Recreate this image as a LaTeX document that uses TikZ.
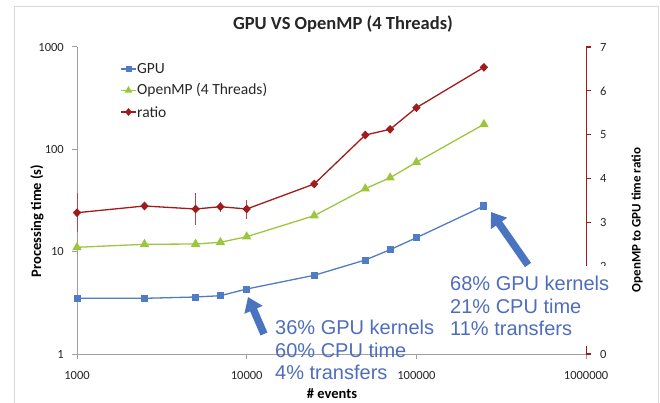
\documentclass[tikz,border=0pt]{standalone}
\usepackage{fontspec}
\setmainfont{Carlito}
\newfontfamily\annfont{Liberation Sans}
\usetikzlibrary{arrows.meta,shapes.geometric}
\definecolor{gpublue}{HTML}{4F7CC4}
\definecolor{ompgreen}{HTML}{9CC63E}
\definecolor{ratiored}{HTML}{A01C1C}
\definecolor{anncol}{HTML}{4E6DBE}
\definecolor{arrowcol}{HTML}{4A74C0}
\definecolor{axisgray}{HTML}{A0A0A0}
\definecolor{framegray}{HTML}{D9D9D9}
\tikzset{
  gpuline/.style={draw=gpublue, line width=1.3pt},
  ompline/.style={draw=ompgreen, line width=1.3pt},
  ratioline/.style={draw=ratiored, line width=1.3pt},
  gpumark/.style={rectangle, fill=gpublue, minimum size=7pt, inner sep=0pt},
  ompmark/.style={regular polygon, regular polygon sides=3, fill=ompgreen, minimum size=11pt, inner sep=0pt},
  ratiomark/.style={diamond, fill=ratiored, minimum width=8.5pt, minimum height=9pt, inner sep=0pt},
  errbar/.style={draw=ratiored!80, line width=0.8pt},
  ticklab/.style={font=\fontsize{12.5}{14}\selectfont, inner sep=0pt, text=black!85},
  axtitle/.style={font=\fontsize{14.5}{16}\selectfont\bfseries, inner sep=0pt},
  legtext/.style={font=\fontsize{15.5}{17}\selectfont, inner sep=0pt, anchor=west, text=black!85},
  anntext/.style={font=\annfont\fontsize{20}{22.5}\selectfont, text=anncol, align=left},
  bigarrow/.style={draw=arrowcol, line width=7.5pt, -{Triangle[width=19pt,length=14pt]}},
}
\begin{document}
\begin{tikzpicture}[x=1pt,y=-1pt]
\useasboundingbox (0,0) rectangle (660,403);
% frame
\draw[framegray, line width=0.8pt] (14,410) -- (14,6) -- (658,6) -- (658,410);
% title
\node[font=\fontsize{18.5}{20}\selectfont\bfseries, inner sep=0pt, text=black!85] (title) at (343,24) {GPU VS OpenMP (4 Threads)};
% left axis
\draw[axisgray, line width=1pt] (77,47) -- (77,354);
\foreach \v/\y in {1000/47, 100/149.3, 10/251.7, 1/354} {
  \draw[axisgray, line width=1pt] (72,\y) -- (77,\y);
  \node[ticklab, anchor=east] (yl\v) at (64,\y) {\v};
}
% bottom axis
\draw[axisgray, line width=1pt] (77,354) -- (586.1,354);
\foreach \v/\x in {1000/77, 10000/246.7, 100000/416.4, 1000000/586.1} {
  \draw[axisgray, line width=1pt] (\x,354) -- (\x,359);
  \node[ticklab] (xl\v) at (\x,375) {\v};
}
% right axis
\draw[ratiored, line width=1.2pt] (586.1,47) -- (586.1,354);
\foreach \k in {0,...,7} {
  \draw[ratiored, line width=1.2pt] (586.1,354-43.857*\k) -- (591,354-43.857*\k);
  \node[ticklab, anchor=west] (rl\k) at (600,354-43.857*\k) {\k};
}
% axis titles
\node[axtitle, rotate=90] (ytitle) at (37,221) {Processing time (s)};
\node[axtitle, rotate=90, font=\fontsize{13}{15}\selectfont\bfseries] (rtitle) at (637,220) {OpenMP to GPU time ratio};
\node[axtitle] (xtitle) at (332,393.5) {\# events};
% data coordinates
\foreach \i/\x/\g/\o/\r in {
  1/77/298.3/247.3/212.7,
  2/144.5/298.3/244.3/206,
  3/195.6/297/244/209,
  4/220.4/295.7/242.3/206.7,
  5/246.7/289/236.7/209,
  6/314.2/275.3/215.7/184,
  7/365.3/260/188.7/135,
  8/390.1/249.7/177.7/129.3,
  9/416.4/237.7/162.3/107.7,
  10/483.9/206/124.3/67.3} {
  \coordinate (g\i) at (\x,\g);
  \coordinate (o\i) at (\x,\o);
  \coordinate (r\i) at (\x,\r);
}
% error bars
\draw[errbar] (77,193) -- (77,232);
\draw[errbar] (195.6,192.7) -- (195.6,225);
\draw[errbar] (220.4,201.7) -- (220.4,212);
\draw[errbar] (246.7,200) -- (246.7,219.3);
% lines
\draw[gpuline] (g1) -- (g2) -- (g3) -- (g4) -- (g5) -- (g6) -- (g7) -- (g8) -- (g9) -- (g10);
\draw[ompline] (o1) -- (o2) -- (o3) -- (o4) -- (o5) -- (o6) -- (o7) -- (o8) -- (o9) -- (o10);
\draw[ratioline] (r1) -- (r2) -- (r3) -- (r4) -- (r5) -- (r6) -- (r7) -- (r8) -- (r9) -- (r10);
\foreach \i in {1,...,10} {
  \node[gpumark] (gm\i) at (g\i) {};
  \node[ompmark] (om\i) at (o\i) {};
  \node[ratiomark] (rm\i) at (r\i) {};
}
% legend
\coordinate (lg1a) at (121,69); \coordinate (lg1b) at (136,69);
\coordinate (lg2a) at (121,90.5); \coordinate (lg2b) at (136,90.5);
\coordinate (lg3a) at (121,112); \coordinate (lg3b) at (136,112);
\draw[gpuline] (lg1a) -- (lg1b);
\node[gpumark, minimum size=6pt] (lgm1) at (128.5,69) {};
\node[legtext] (lgt1) at (137,69) {GPU};
\draw[ompline] (lg2a) -- (lg2b);
\node[ompmark, minimum size=9pt] (lgm2) at (128.5,90.5) {};
\node[legtext] (lgt2) at (137,90.5) {OpenMP (4 Threads)};
\draw[ratioline] (lg3a) -- (lg3b);
\node[ratiomark, minimum width=7pt, minimum height=8pt] (lgm3) at (128.5,112) {};
\node[legtext] (lgt3) at (137,112) {ratio};
% annotations
\node[anntext, inner sep=0pt, anchor=west] (ann1) at (275,350.3) {36\% GPU kernels\\60\% CPU time\\4\% transfers};
\node[anntext, fill=white, inner xsep=7pt, inner ysep=0pt, minimum height=80pt, anchor=west] (ann2) at (443,306.3) {68\% GPU kernels\\21\% CPU time\\11\% transfers};
% arrows
\coordinate (a1tail) at (264,334);
\coordinate (a1tip) at (248,297);
\coordinate (a2tail) at (528,265);
\coordinate (a2tip) at (491,212);
\draw[bigarrow] (a1tail) -- (a1tip);
\draw[bigarrow] (a2tail) -- (a2tip);
\end{tikzpicture}
\end{document}
